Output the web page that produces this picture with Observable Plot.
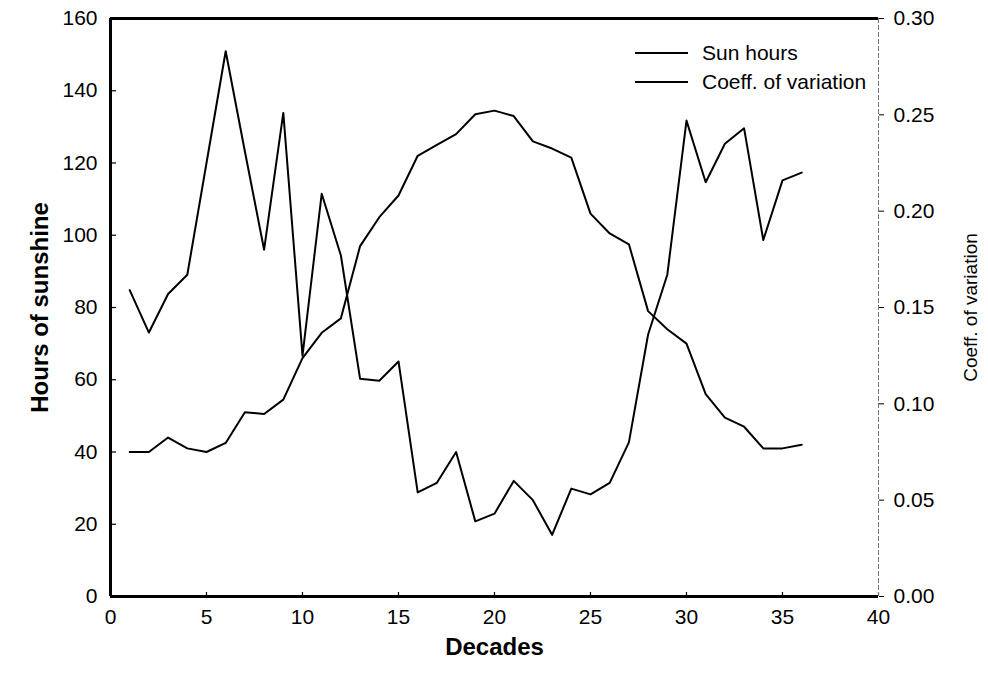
<!DOCTYPE html>
<html>
<head>
<meta charset="utf-8">
<script src="https://cdn.jsdelivr.net/npm/d3@7"></script>
<script src="https://cdn.jsdelivr.net/npm/@observablehq/plot@0.6"></script>
<style>
  body { margin: 0; background: #fff; }
  #chart { width: 988px; height: 685px; }
</style>
</head>
<body>
<div id="chart"></div>
<script>
// Ten-day periods of the year
const decades = [1, 2, 3, 4, 5, 6, 7, 8, 9, 10, 11, 12, 13, 14, 15, 16, 17, 18,
                 19, 20, 21, 22, 23, 24, 25, 26, 27, 28, 29, 30, 31, 32, 33, 34, 35, 36];

// Mean hours of sunshine per decade (left axis)
const sunHours = [40, 40, 44, 41, 40, 42.5, 51, 50.5, 54.5, 66, 73, 77, 97, 105, 111, 122, 125, 128,
                  133.5, 134.5, 133, 126, 124, 121.5, 106, 100.5, 97.5, 79, 74, 70, 56, 49.5, 47, 41, 41, 42];

// Coefficient of variation per decade (right axis)
const coeffVariation = [0.159, 0.137, 0.157, 0.167, 0.225, 0.283, 0.231, 0.180, 0.251, 0.125, 0.209, 0.177,
                        0.113, 0.112, 0.122, 0.054, 0.059, 0.075, 0.039, 0.043, 0.060, 0.050, 0.032, 0.056,
                        0.053, 0.059, 0.080, 0.136, 0.167, 0.247, 0.215, 0.235, 0.243, 0.185, 0.216, 0.220];

const xTicks = [0, 5, 10, 15, 20, 25, 30, 35, 40];
const hourTicks = [0, 20, 40, 60, 80, 100, 120, 140, 160];
const coeffTicks = [0, 0.05, 0.10, 0.15, 0.20, 0.25, 0.30];
const legendNames = ["Sun hours", "Coeff. of variation"];

const hourMax = 160;
const coeffMax = 0.30;
// The right axis shares the left y scale: one coefficient unit = hourMax / coeffMax hours
const k = hourMax / coeffMax;

const sunData = decades.map((d, i) => ({decade: d, value: sunHours[i]}));
const cvData = decades.map((d, i) => ({decade: d, value: coeffVariation[i] * k}));

const W = 988, H = 685;
const mL = 110, mR = 110, mT = 18, mB = 89;
const innerW = W - mL - mR, innerH = H - mT - mB;

const chart = Plot.plot({
  width: W,
  height: H,
  marginLeft: mL,
  marginRight: mR,
  marginTop: mT,
  marginBottom: mB,
  style: {fontFamily: "'Liberation Sans', Arial, sans-serif", fontSize: "21px", color: "#000", background: "#fff"},
  x: {domain: [0, 40]},
  y: {domain: [0, hourMax]},
  marks: [
    // bottom axis: labels outside, short ticks pointing inward
    Plot.axisX(xTicks, {tickSize: 0, tickPadding: 13, label: null}),
    Plot.ruleX(xTicks, {x: d => d, insetTop: innerH - 4, stroke: "#000", strokeWidth: 1.2}),
    // left axis
    Plot.axisY(hourTicks, {anchor: "left", tickSize: 0, tickPadding: 13, label: null}),
    Plot.ruleY(hourTicks, {y: d => d, insetRight: innerW - 6, stroke: "#000", strokeWidth: 1.2}),
    // right axis for the coefficient of variation
    Plot.ruleX([40], {stroke: "#777", strokeWidth: 1, strokeDasharray: "5,2"}),
    Plot.axisY(coeffTicks.map(c => c * k), {
      anchor: "right", tickSize: 5, tickPadding: 10, label: null,
      tickFormat: d => (d / k).toFixed(2)
    }),
    // frame edges
    Plot.ruleY([hourMax], {stroke: "#000", strokeWidth: 3}),
    Plot.ruleY([0], {stroke: "#000", strokeWidth: 3}),
    Plot.ruleX([0], {stroke: "#000", strokeWidth: 3}),
    // data series
    Plot.line(sunData, {x: "decade", y: "value", stroke: "#000", strokeWidth: 2}),
    Plot.line(cvData, {x: "decade", y: "value", stroke: "#000", strokeWidth: 2}),
    // axis titles
    Plot.text(["Hours of sunshine"], {text: d => d, frameAnchor: "left", dx: -70, rotate: -90,
      textAnchor: "middle", lineAnchor: "middle", fontSize: 24, fontWeight: "bold"}),
    Plot.text(["Coeff. of variation"], {text: d => d, frameAnchor: "right", dx: 92, rotate: -90,
      textAnchor: "middle", lineAnchor: "middle", fontSize: 19}),
    Plot.text(["Decades"], {text: d => d, frameAnchor: "bottom", dy: 51,
      textAnchor: "middle", lineAnchor: "middle", fontSize: 24, fontWeight: "bold"})
  ]
});

// Legend in the upper-right corner of the plot area
const svg = d3.select(chart);
const lg = svg.append("g")
  .attr("font-family", "'Liberation Sans', Arial, sans-serif")
  .attr("font-size", 21)
  .attr("text-anchor", "start");
legendNames.forEach((name, i) => {
  const y = mT + 35 + i * 29;
  const x0 = mL + innerW - 243;
  lg.append("line")
    .attr("x1", x0).attr("x2", x0 + 53)
    .attr("y1", y).attr("y2", y)
    .attr("stroke", "#000").attr("stroke-width", 2);
  lg.append("text")
    .attr("x", x0 + 67).attr("y", y)
    .attr("dy", "0.35em")
    .attr("fill", "#000")
    .text(name);
});

document.getElementById("chart").appendChild(chart);
</script>
</body>
</html>
